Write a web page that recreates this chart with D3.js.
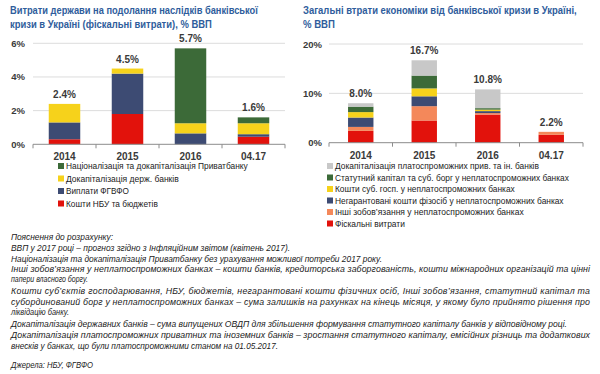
<!DOCTYPE html>
<html>
<head>
<meta charset="utf-8">
<script src="https://cdn.jsdelivr.net/npm/d3@7"></script>
<style>
  body { margin: 0; background: #fff; }
  svg { display: block; font-family: "Liberation Sans", Arial, sans-serif; }
</style>
</head>
<body>
<svg width="600" height="374"></svg>
<script>

var categories = ["2014", "2015", "2016", "04.17"];

// left chart: fiscal costs, % GDP (bottom to top)
var leftNames = ["Кошти НБУ та бюджетів", "Виплати ФГВФО", "Докапіталізація держ. банків", "Націоналізація та докапіталізація Приватбанку"];
var nbuBudget = [0.3, 1.8, 0, 0.45];
var fgvfo = [1.0, 2.4, 0.65, 0.15];
var stateBanks = [1.1, 0.3, 0.6, 0.65];
var privatbank = [0, 0, 4.45, 0.35];
var leftTotals = ["2.4%", "4.5%", "5.7%", "1.6%"];
var leftTicks = [0, 2, 4, 6];

// right chart: total losses, % GDP (bottom to top)
var rightNames = ["Фіскальні витрати", "Інші зобов’язання  у неплатоспроможних банках", "Негарантовані кошти фізосіб у неплатоспроможних банках", "Кошти суб. госп. у неплатоспроможних банках", "Статутний капітал та суб. борг у неплатоспроможних банках", "Докапіталізація платоспроможних прив. та ін. банків"];
var fiscal = [2.4, 4.5, 5.7, 1.6];
var otherLiab = [0.8, 2.9, 0.3, 0.6];
var unguaranteed = [1.9, 2.0, 0.4, 0];
var corpFunds = [1.1, 1.6, 0.3, 0];
var capitalDebt = [1.1, 2.6, 0.3, 0];
var solventRecap = [0.7, 3.1, 3.8, 0];
var rightTotals = ["8.0%", "16.7%", "10.8%", "2.2%"];
var rightTicks = [0, 10, 20];

var notes = [
  "Пояснення до розрахунку:",
  "ВВП у 2017 році – прогноз згідно з Інфляційним звітом (квітень 2017).",
  "Націоналізація та докапіталізація Приватбанку без урахування можливої потреби 2017 року.",
  "Інші зобов’язання у неплатоспроможних банках – кошти банків, кредиторська заборгованість, кошти міжнародних організацій та цінні",
  "папери власного боргу.",
  "Кошти суб’єктів господарювання, НБУ, бюджетів, негарантовані кошти фізичних осіб, Інші зобов’язання, статутний капітал та",
  "субординований борг у неплатоспроможних банках – сума залишків на рахунках на кінець місяця, у якому було прийнято рішення про",
  "ліквідацію банку.",
  "Докапіталізація державних банків – сума випущених ОВДП для збільшення формування статутного капіталу банків у відповідному році.",
  "Докапіталізація платоспроможних приватних та іноземних банків – зростання статутного капіталу, емісійних різниць та додаткових",
  "внесків у банках, що були платоспроможними станом на 01.05.2017.",
  "Джерела: НБУ, ФГВФО"
];

var red = "#e2120c", navy = "#3d4b73", yellow = "#f6d21b", green = "#3c6a38", gray = "#c8c8c8", orange = "#f4885a";
var titleColor = "#2f5d9c";
var textColor = "#3a3a3a";

var svg = d3.select("svg");

// squeeze a text horizontally so it spans w pixels, starting at x
function fitText(sel, x, y, w) {
  sel.each(function(d, i) {
    var natural = this.getComputedTextLength();
    var sx = Math.min(1, w(d, i) / natural);
    d3.select(this).attr("transform", "translate(" + x(d, i) + "," + y(d, i) + ") scale(" + sx + ",1)");
  });
}

function drawChart(opt) {
  var g = svg.append("g");

  var titles = g.selectAll(".title").data(opt.title).enter().append("text")
      .attr("fill", titleColor)
      .attr("font-size", 10.5)
      .attr("font-weight", "bold")
      .text(function(d) { return d; });
  fitText(titles, function() { return opt.titleX; }, function(d, i) { return 14 + i * 13.5; },
      function(d, i) { return opt.titleW[i]; });

  var x = d3.scaleBand().domain(categories).range(opt.xRange).paddingInner(opt.pad).paddingOuter(opt.pad / 2);
  var y = d3.scaleLinear().domain([0, opt.max]).range(opt.yRange);

  // gridlines + y labels
  g.selectAll(".grid").data(opt.ticks.slice(1)).enter().append("line")
      .attr("x1", opt.xRange[0]).attr("x2", opt.xRange[1])
      .attr("y1", function(d) { return y(d); }).attr("y2", function(d) { return y(d); })
      .attr("stroke", "#dcdcdc").attr("stroke-width", 1);

  g.selectAll(".ylab").data(opt.ticks).enter().append("text")
      .attr("x", opt.yLabX)
      .attr("y", function(d) { return y(d) + 3.5; })
      .attr("text-anchor", "end")
      .attr("font-size", 9.5)
      .attr("font-weight", "bold")
      .attr("fill", textColor)
      .text(function(d) { return d + "%"; });

  // stacked bars
  var rows = categories.map(function(c, i) {
    var row = { cat: c };
    opt.series.forEach(function(s, k) { row["s" + k] = s[i]; });
    return row;
  });
  var keys = opt.series.map(function(s, k) { return "s" + k; });
  var stacked = d3.stack().keys(keys)(rows);

  g.selectAll(".layer").data(stacked).enter().append("g")
      .attr("fill", function(d, k) { return opt.colors[k]; })
    .selectAll("rect").data(function(d) { return d; }).enter().append("rect")
      .attr("x", function(d) { return x(d.data.cat); })
      .attr("width", x.bandwidth())
      .attr("y", function(d) { return y(d[1]); })
      .attr("height", function(d) { return Math.max(0, y(d[0]) - y(d[1])); });

  // totals
  var last = stacked[stacked.length - 1];
  g.selectAll(".total").data(last).enter().append("text")
      .attr("x", function(d) { return x(d.data.cat) + x.bandwidth() / 2; })
      .attr("y", function(d) { return y(d[1]) - 6; })
      .attr("text-anchor", "middle")
      .attr("font-size", 10)
      .attr("font-weight", "bold")
      .attr("fill", textColor)
      .text(function(d, i) { return opt.totals[i]; });

  // x axis with ticks between categories
  var y0 = y(0);
  g.append("line").attr("x1", opt.xRange[0]).attr("x2", opt.xRange[1])
      .attr("y1", y0).attr("y2", y0).attr("stroke", "#8c8c8c");
  var step = x.step();
  g.selectAll(".xtick").data(d3.range(categories.length + 1)).enter().append("line")
      .attr("x1", function(d) { return opt.xRange[0] + d * step; })
      .attr("x2", function(d) { return opt.xRange[0] + d * step; })
      .attr("y1", y0).attr("y2", y0 + 4)
      .attr("stroke", "#8c8c8c");
  g.selectAll(".xlab").data(categories).enter().append("text")
      .attr("x", function(d) { return x(d) + x.bandwidth() / 2; })
      .attr("y", y0 + 16)
      .attr("text-anchor", "middle")
      .attr("font-size", 10)
      .attr("font-weight", "bold")
      .attr("fill", textColor)
      .text(function(d) { return d; });

  // legend (top row = last series)
  var legNames = opt.names.slice().reverse();
  var legColors = opt.colors.slice().reverse();
  var leg = g.selectAll(".leg").data(legNames).enter().append("g")
      .attr("transform", function(d, i) { return "translate(" + opt.legX + "," + (opt.legY + i * opt.legStep) + ")"; });
  leg.append("rect").attr("x", 0).attr("y", -3).attr("width", 6).attr("height", 6)
      .attr("fill", function(d, i) { return legColors[i]; });
  var legText = leg.append("text")
      .attr("font-size", 9.3)
      .attr("fill", "#222")
      .text(function(d) { return d; });
  fitText(legText, function() { return 8; }, function() { return 3.3; },
      function(d, i) { return opt.legW[i]; });
}

drawChart({
  title: ["Витрати держави на подолання наслідків банківської", "кризи в Україні (фіскальні витрати), % ВВП"],
  titleX: 10, titleW: [248, 202],
  xRange: [33, 285], yRange: [144.3, 43.3], pad: 0.5, max: 6,
  ticks: leftTicks, yLabX: 25,
  series: [nbuBudget, fgvfo, stateBanks, privatbank],
  names: leftNames,
  colors: [red, navy, yellow, green],
  totals: leftTotals,
  legX: 58, legY: 166, legStep: 12.5,
  legW: [182, 113, 63, 92]
});

drawChart({
  title: ["Загальні втрати економіки від банківської кризи в Україні,", "% ВВП"],
  titleX: 303, titleW: [274, 32],
  xRange: [329, 583], yRange: [142.7, 44], pad: 0.6, max: 20,
  ticks: rightTicks, yLabX: 322,
  series: [fiscal, otherLiab, unguaranteed, corpFunds, capitalDebt, solventRecap],
  names: rightNames,
  colors: [red, orange, navy, yellow, green, gray],
  totals: rightTotals,
  legX: 327, legY: 166, legStep: 11.5,
  legW: [204, 234, 180, 229, 189, 70]
});

// footnotes
var noteY = [237, 247.8, 258.6, 269, 279.2, 291, 301.8, 312.4, 324.4, 335.2, 346, 365];
var noteEnd = [113, 290, 382, 590, 88, 590, 590, 69, 567, 590, 278, 93];
svg.selectAll(".note").data(notes).enter().append("text")
    .attr("x", 11)
    .attr("y", function(d, i) { return noteY[i] + 3; })
    .attr("font-size", 8.8)
    .attr("font-style", "italic")
    .attr("fill", "#222")
    .attr("textLength", function(d, i) { return noteEnd[i] - 11; })
    .attr("lengthAdjust", function(d, i) { return noteEnd[i] === 590 ? "spacing" : "spacingAndGlyphs"; })
    .text(function(d) { return d; });

</script>
</body>
</html>
